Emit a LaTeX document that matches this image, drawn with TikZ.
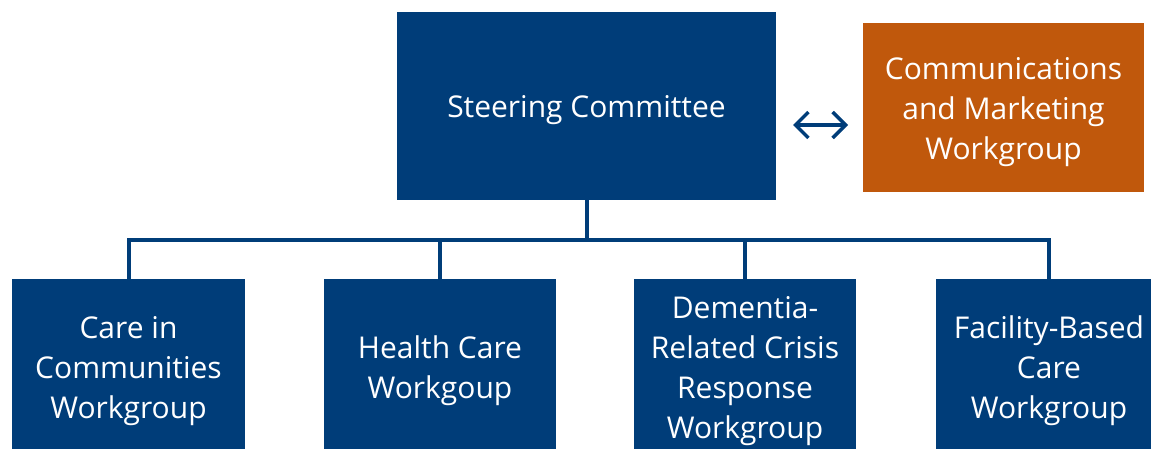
\documentclass[tikz,border=0pt]{standalone}
\usepackage{fontspec}
\setmainfont{Open Sans}
\usepackage{tikz}
\usepackage{xcolor}
\usetikzlibrary{arrows.meta}
\definecolor{scblue}{RGB}{0,61,121}
\definecolor{scorange}{RGB}{192,88,12}
\newcommand{\boxlines}[1]{\raisebox{-4pt}[\height][\depth]{\begin{tabular}{@{}c@{}}#1\end{tabular}}}
\tikzstyle{boxtext}=[text=white,align=center,inner sep=0pt,
  font=\fontsize{30}{40}\selectfont]
\tikzstyle{wgbox}=[boxtext,fill=scblue,minimum height=175pt]
\tikzstyle{conn}=[draw=scblue,line width=4pt]
\tikzstyle{arr}=[{Straight Barb[length=13pt,width=26pt]}-{Straight Barb[length=13pt,width=26pt]},
  draw=scblue,line width=3.5pt]

\begin{document}
\begin{tikzpicture}[x=1pt,y=-1pt]
  \useasboundingbox (0,0) rectangle (1151,449);
  \clip (0,0) rectangle (1151,449);

  \node[wgbox,minimum width=379pt,minimum height=188pt] (steer) at (586.5,106)
    {\boxlines{Steering Committee}};
  \node[boxtext,fill=scorange,minimum width=281pt,minimum height=169pt] (comms)
    at (1003.5,107.5) {\boxlines{Communications\\and Marketing\\Workgroup}};

  \foreach \n/\x/\w/\t in {b1/128.5/233/{Care in\\Communities\\Workgroup},
      b2/440/232/{Health Care\\Workgoup},
      b3/745/222/{Dementia-\\Related Crisis\\Response\\Workgroup},
      b4/1049/226/{Facility-Based\\Care\\Workgroup}}
    \node[wgbox,minimum width=\w pt] (\n) at (\x,366.5) {\boxlines{\t}};

  % tree of workgroups
  \coordinate (bus) at (586.5,240);
  \draw[conn] (steer.south) -- (steer.south |- bus);
  \draw[conn] (b1.north) -- (b1.north |- bus) -- (b4.north |- bus) -- (b4.north);
  \foreach \n in {b2,b3}
    \draw[conn] (\n.north) -- (\n.north |- bus);

  \coordinate (al) at (793,125);
  \coordinate (ar) at (848,125);
  \draw[arr] (al) -- (ar);
\end{tikzpicture}
\end{document}
